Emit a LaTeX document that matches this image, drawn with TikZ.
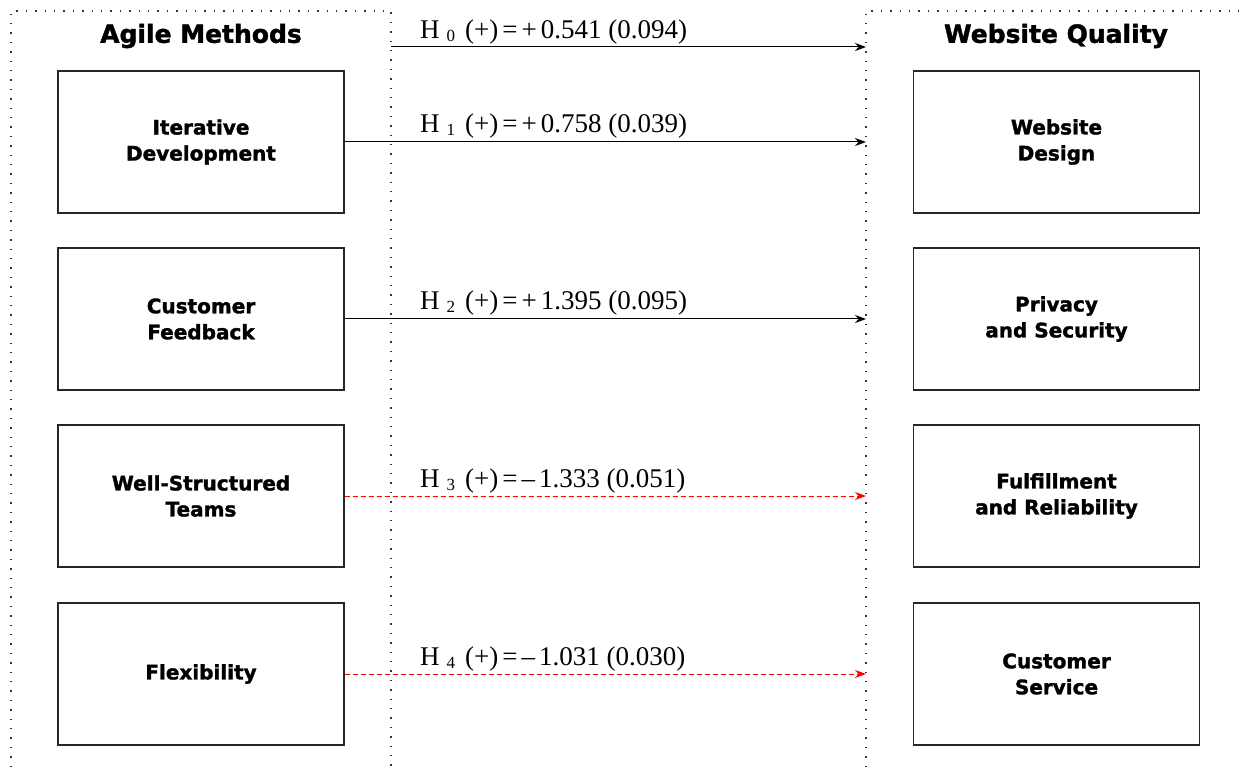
\documentclass[tikz,border=0pt]{standalone}
\usepackage{fontspec}
\setmainfont{Liberation Serif}
\newfontfamily\boxfont{DejaVu Sans}[BoldFeatures={FakeBold=1.6}]
\usetikzlibrary{arrows.meta}
\tikzset{
  frame/.style={line width=1.4pt, dash pattern=on 1.4pt off 8pt, black!80},
  factor/.style={draw=black!85, line width=1.5pt, minimum width=286pt, minimum height=142pt, align=center,
    font=\boxfont\bfseries\fontsize{20}{26}\selectfont},
  title/.style={font=\boxfont\bfseries\fontsize{25}{30}\selectfont},
  posarrow/.style={line width=1pt, -{Stealth[length=11pt,width=8pt]}},
  negarrow/.style={line width=1pt, red, dash pattern=on 5pt off 3pt, -{Stealth[length=11pt,width=8pt]}},
  eqlabel/.style={anchor=south west, inner sep=0pt, font=\fontsize{27}{30}\selectfont}
}
\newcommand{\hyp}[2]{H\hspace{7pt}\raisebox{-3pt}{\fontsize{17}{17}\selectfont #1}\hspace{10pt}(+)\hspace{4pt}=\hspace{4pt}#2}
\begin{document}
\begin{tikzpicture}[x=1pt,y=-1pt]
\useasboundingbox (0,0) rectangle (1243,767);
% dotted frames
\draw[frame] (11,767) -- (11,11) -- (391,11) -- (391,767);
\draw[frame] (866,767) -- (866,11) -- (1241,11);
% titles
\node[title] (tl) at (201,36) {Agile Methods};
\node[title] (tr) at (1056,36) {Website Quality};
% left boxes
\node[factor] (a1) at (201,142) {Iterative\\Development};
\node[factor] (a2) at (201,319) {Customer\\Feedback};
\node[factor] (a3) at (201,496) {Well-Structured\\Teams};
\node[factor] (a4) at (201,674) {Flexibility};
% right boxes
\node[factor] (b1) at (1056.5,142) {Website\\Design};
\node[factor] (b2) at (1056.5,319) {Privacy\\and Security};
\node[factor] (b3) at (1056.5,496) {Fulfillment\\and Reliability};
\node[factor] (b4) at (1056.5,674) {Customer\\Service};
% arrow end points on the frame
\coordinate (s0) at (391,47);
\coordinate (e0) at (866,47);
\coordinate (e1) at (866,142);
\coordinate (e2) at (866,319);
\coordinate (e3) at (866,496);
\coordinate (e4) at (866,674);
\draw[posarrow] (s0) -- (e0);
\draw[posarrow] (a1.east) -- (e1);
\draw[posarrow] (a2.east) -- (e2);
\draw[negarrow] (a3.east) -- (e3);
\draw[negarrow] (a4.east) -- (e4);
% labels
\node[eqlabel] (l0) at (420,44) {\hyp{0}{+\hspace{4pt}0.541 (0.094)}};
\node[eqlabel] (l1) at (420,138) {\hyp{1}{+\hspace{4pt}0.758 (0.039)}};
\node[eqlabel] (l2) at (420,315) {\hyp{2}{+\hspace{4pt}1.395 (0.095)}};
\node[eqlabel] (l3) at (420,493) {\hyp{3}{--\hspace{4pt}1.333 (0.051)}};
\node[eqlabel] (l4) at (420,671) {\hyp{4}{--\hspace{4pt}1.031 (0.030)}};
\end{tikzpicture}
\end{document}
